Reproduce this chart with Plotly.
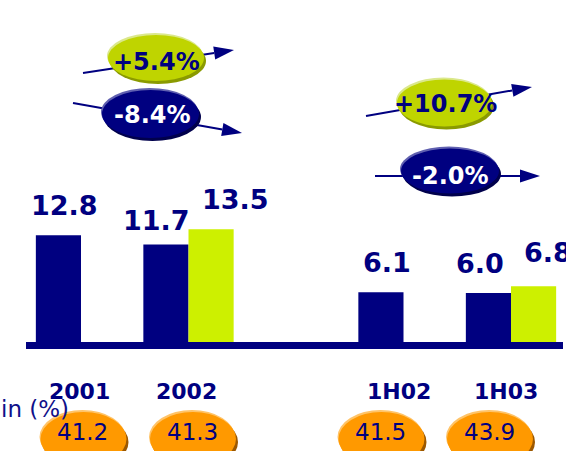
import math
import plotly.graph_objects as go

# data
periods = ["2001", "2002", "1H02", "1H03"]
period_pos = [0, 1, 3, 4]
reported = [12.8, 11.7, 6.1, 6.0]
comparable_pos = [1, 4]
comparable = [13.5, 6.8]
margin = [41.2, 41.3, 41.5, 43.9]
growth = ["+5.4%", "-8.4%", "+10.7%", "-2.0%"]

NAVY = "#000080"
LIME = "#cdf000"
FONT = "DejaVu Sans"
W, H = 566, 451
BAR_W = 0.42

fig = go.Figure()

fig.add_trace(go.Bar(
    x=period_pos, y=reported, offset=-BAR_W, width=BAR_W,
    marker=dict(color=NAVY, line=dict(width=0)), showlegend=False))
fig.add_trace(go.Bar(
    x=comparable_pos, y=comparable, offset=0, width=BAR_W,
    marker=dict(color=LIME, line=dict(width=0)), showlegend=False))
# empty trace so the pixel overlay axes exist
fig.add_trace(go.Scatter(x=[], y=[], xaxis="x2", yaxis="y2", showlegend=False))

# value labels above the bars (hand placed on the slide)
label_shift = [(6, 30), (-9, 24), (6, 30), (-8, 30)]
for p, v, (dx, dy) in zip(period_pos, reported, label_shift):
    fig.add_annotation(x=p - BAR_W / 2, y=v, xref="x", yref="y", text=f"<b>{v}</b>",
                       showarrow=False, xshift=dx, yshift=dy,
                       font=dict(family=FONT, size=27, color=NAVY))
comp_shift = [(24, 30), (14, 34)]
for p, v, (dx, dy) in zip(comparable_pos, comparable, comp_shift):
    fig.add_annotation(x=p + BAR_W / 2, y=v, xref="x", yref="y", text=f"<b>{v}</b>",
                       showarrow=False, xshift=dx, yshift=dy,
                       font=dict(family=FONT, size=27, color=NAVY))

# period labels under the axis
for p, name, dx in zip(period_pos, periods, [-1.5, -2, -5, -5.5]):
    fig.add_annotation(x=p, y=391, xref="x", yref="y2", text=f"<b>{name}</b>",
                       showarrow=False, xshift=dx,
                       font=dict(family=FONT, size=22, color=NAVY))

# baseline bar
fig.add_shape(type="rect", xref="x2", yref="y2", x0=26, x1=563, y0=342, y1=349,
              fillcolor=NAVY, line=dict(width=0), layer="above")


def badge(cx, cy, w, h, fill, light, dark):
    for dx, dy, col in [(2, 3, dark), (-1, -2, light), (0, 0, fill)]:
        fig.add_shape(type="circle", xref="x2", yref="y2",
                      x0=cx - w / 2 + dx, x1=cx + w / 2 + dx,
                      y0=cy - h / 2 + dy, y1=cy + h / 2 + dy,
                      fillcolor=col, line=dict(width=0), layer="above")


def arrow(x0, y0, x1, y1, head_len=20, head_w=13):
    d = math.hypot(x1 - x0, y1 - y0)
    ux, uy = (x1 - x0) / d, (y1 - y0) / d
    bx, by = x1 - ux * head_len, y1 - uy * head_len
    nx, ny = -uy * head_w / 2, ux * head_w / 2
    fig.add_shape(type="line", xref="x2", yref="y2", x0=x0, y0=y0, x1=bx, y1=by,
                  line=dict(color=NAVY, width=2), layer="above")
    fig.add_shape(type="path", xref="x2", yref="y2",
                  path=f"M{x1},{y1} L{bx + nx},{by + ny} L{bx - nx},{by - ny} Z",
                  fillcolor=NAVY, line=dict(width=0), layer="above")


# growth badges with arrows (arrows first so the badges sit on top of them)
arrows = [(83, 73, 234, 50), (73, 103, 242, 133), (366, 116, 532, 87), (375, 176, 540, 176)]
for a in arrows:
    arrow(*a)

green_badge = ("#bfd400", "#dbe88c", "#8a9a00")
navy_badge = (NAVY, "#6060b0", "#00004c")
badges = [(156, 58, 96, 46, green_badge), (150.5, 114, 97, 48, navy_badge),
          (444.5, 103, 95, 47, green_badge), (450, 171, 98, 45, navy_badge)]
text_pos = [(156.5, 62), (152, 115), (445.5, 104), (450, 175.5)]
for (cx, cy, w, h, cols), (tx, ty), g in zip(badges, text_pos, growth):
    badge(cx, cy, w, h, *cols)
    fig.add_annotation(x=tx, y=ty, xref="x2", yref="y2", text=f"<b>{g}</b>",
                       showarrow=False,
                       font=dict(family=FONT, size=24,
                                 color="white" if cols is navy_badge else NAVY))

# margin row
margin_x = [83.5, 193, 381.5, 490]
for mx, m in zip(margin_x, margin):
    badge(mx, 439, 86, 54, "#ff9900", "#ffc468", "#9c5800")
    fig.add_annotation(x=mx - 1, y=431.5, xref="x2", yref="y2", text=f"{m}",
                       showarrow=False, font=dict(family=FONT, size=23, color=NAVY))

fig.add_annotation(x=71, y=409, xref="x2", yref="y2", text="in (%)", xanchor="right",
                   showarrow=False, font=dict(family=FONT, size=23, color="#10108a"))

fig.update_layout(
    width=W, height=H,
    margin=dict(l=0, r=0, t=0, b=0),
    paper_bgcolor="white", plot_bgcolor="white",
    xaxis=dict(range=[-81 / 107.5, 485 / 107.5], visible=False, fixedrange=True),
    yaxis=dict(range=[-107 / 8.5, 344 / 8.5], visible=False, fixedrange=True),
    xaxis2=dict(range=[0, W], overlaying="x", anchor="y2", visible=False),
    yaxis2=dict(range=[H, 0], overlaying="y", anchor="x2", visible=False),
    barmode="overlay",
)

# the page body has a default 8px margin; drop it so the chart sits at 0,0
fig.write_html("out.html", config={"displayModeBar": False},
               post_script="document.body.style.margin='0';document.body.style.overflow='hidden';")
